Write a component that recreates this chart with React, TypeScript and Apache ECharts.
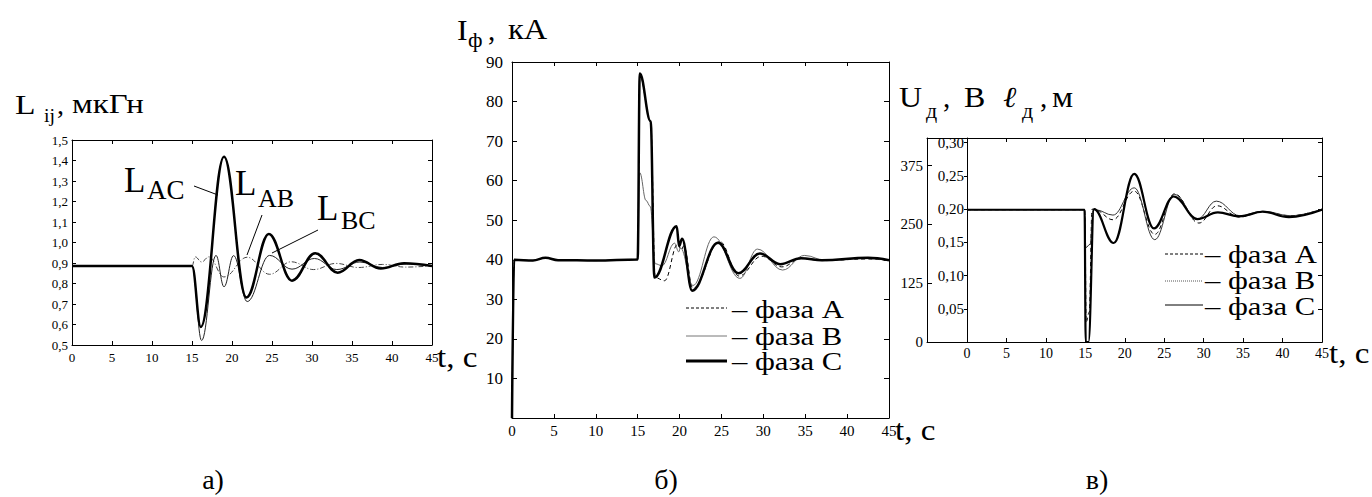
import React, { useEffect, useRef } from "react";
import * as echarts from "echarts";

const SERIF = "Liberation Serif";

// ---------- а) L_ij, мкГн ----------
const lacT = [0, 15, 16.1, 19.0, 21.8, 24.6, 27.5, 30.4, 33.2, 35.9, 38.6, 41.5, 45];
const lacV = [0.885, 0.885, 0.588, 1.418, 0.732, 1.042, 0.814, 0.948, 0.853, 0.915, 0.873, 0.899, 0.885];
const labT = [0, 15, 15.4, 16.2, 17.1, 19.0, 21.9, 24.7, 27.4, 30.2, 33.0, 35.8, 38.8, 41.7, 45];
const labV = [0.885, 0.885, 0.93, 0.905, 0.93, 0.832, 0.928, 0.845, 0.906, 0.868, 0.898, 0.878, 0.893, 0.88, 0.886];
const lbcT = [0, 15, 16.2, 18.0, 19.0, 20.2, 21.9, 24.7, 27.5, 30.3, 33.1, 36.0, 38.8, 41.8, 45];
const lbcV = [0.885, 0.885, 0.522, 0.937, 0.784, 0.936, 0.712, 0.937, 0.87, 0.922, 0.868, 0.905, 0.878, 0.895, 0.885];

// ---------- б) I_ф, кА ----------
const ifAT = [0, 0.25, 2.5, 4, 5.5, 10, 15, 15.25, 16.55, 17.1, 18.2, 19.8, 20.2, 20.5, 21.6, 24.8, 27.1, 29.8, 32.2, 34.5, 37, 42.5, 45];
const ifAV = [0, 40, 39.8, 40.5, 39.9, 39.8, 40.1, 86.5, 75, 35.5, 34.7, 44, 42.5, 43.5, 32.8, 44.6, 35.9, 40.9, 38.2, 40.3, 39.8, 40.2, 39.8];
const ifBT = [0, 0.25, 2.5, 4, 5.5, 10, 15, 15.25, 16.0, 16.5, 17.1, 17.9, 19.4, 19.9, 20.1, 21.6, 24.1, 27.2, 29.3, 32.3, 34.9, 37.5, 42, 45];
const ifBV = [0, 40, 39.8, 40.5, 39.9, 39.8, 40.1, 62, 55, 53.5, 39, 38.5, 44.2, 42, 43, 33.5, 45.8, 35.3, 42.7, 37.4, 41.1, 39.8, 40.3, 39.9];
const ifCT = [0, 0.25, 2.5, 4, 5.5, 10, 15, 15.25, 16.55, 17.0, 19.65, 19.95, 20.3, 21.5, 24.6, 27.0, 29.6, 32.0, 34.5, 37, 42.5, 45];
const ifCV = [0, 40, 39.8, 40.5, 39.9, 39.8, 40.1, 87.1, 75, 35.5, 48.5, 43.5, 45.3, 32.2, 44.3, 36.6, 41.6, 38.9, 40.4, 39.9, 40.5, 39.9];

// ---------- в) U_д, В / ℓ_д, м ----------
const ldAT = [0, 14.95, 15.1, 15.5, 15.85, 16.2, 18.5, 21.2, 23.8, 26.3, 29.4, 31.7, 34.5, 37.5, 41, 45];
const ldAV = [0.199, 0.199, 0.03, 0.045, 0.2, 0.199, 0.184, 0.227, 0.162, 0.223, 0.179, 0.205, 0.188, 0.196, 0.19, 0.2];
const ldBT = [0, 14.95, 15.05, 15.6, 16.0, 16.3, 18.5, 21.2, 23.8, 26.3, 29.2, 31.6, 34.6, 37.5, 41, 45];
const ldBV = [0.199, 0.199, 0.142, 0.147, 0.2, 0.199, 0.191, 0.232, 0.154, 0.222, 0.185, 0.212, 0.19, 0.197, 0.19, 0.2];
const ldCT = [0, 14.9, 15.05, 15.4, 16.1, 18.6, 21.2, 23.7, 26.2, 29.2, 31.8, 34.5, 37.5, 40.8, 45];
const ldCV = [0.199, 0.199, 0, 0, 0.2, 0.149, 0.253, 0.171, 0.219, 0.185, 0.195, 0.189, 0.196, 0.188, 0.199];

// tick labels
const uTicks = [0, 125, 250, 375];

const zip = (t: number[], v: number[]) => t.map((x, i) => [x, v[i]]);

const AXLINE = { show: true, onZero: false, lineStyle: { color: "#000", width: 1 } };
const tickIn = (len = 4) => ({ show: true, inside: true, length: len, lineStyle: { color: "#000", width: 1 } });

function xAx(grid: number, pos: "top" | "bottom", labels: boolean, fontSize: number, margin: number): any {
  return {
    type: "value", gridIndex: grid, position: pos, min: 0, max: 45, interval: 5,
    axisLine: AXLINE, axisTick: tickIn(4), splitLine: { show: false },
    axisLabel: { show: labels, color: "#000", fontFamily: SERIF, fontSize, margin },
  };
}

function line(name: string, xi: number, yi: number, data: number[][], style: any, z = 2): any {
  return {
    type: "line", name, xAxisIndex: xi, yAxisIndex: yi, data, symbol: "none", showSymbol: false,
    smooth: 0.4, smoothMonotone: "x", lineStyle: style, z, silent: true, clip: true,
  };
}

function txt(text: string, x: number, y: number, size: number, sx = 1, extra: any = {}): any {
  return {
    type: "text", x, y, scaleX: sx, silent: true,
    style: { text, fontSize: size, fontFamily: SERIF, fill: "#000", align: "left", verticalAlign: "middle", ...extra },
  };
}
function seg(x1: number, y1: number, x2: number, y2: number, w = 1, dash: any = null, color = "#000"): any {
  return { type: "line", silent: true, shape: { x1, y1, x2, y2 }, style: { stroke: color, lineWidth: w, lineDash: dash } };
}

const option: any = {
  animation: false,
  backgroundColor: "#fff",
  textStyle: { fontFamily: SERIF },
  grid: [
    { left: 72, top: 140, width: 360, height: 205 },
    { left: 512, top: 62, width: 377, height: 356 },
    { left: 927, top: 138, width: 395, height: 204 },
    { left: 967, top: 138, width: 355, height: 204 },
  ],
  xAxis: [
    xAx(0, "bottom", true, 13, 6),
    xAx(0, "top", false, 13, 6),
    xAx(1, "bottom", true, 15, 5),
    xAx(1, "top", false, 15, 5),
    { type: "value", gridIndex: 2, position: "bottom", min: 0, max: 1, axisLine: AXLINE, axisTick: { show: false }, axisLabel: { show: false }, splitLine: { show: false } },
    { type: "value", gridIndex: 2, position: "top", min: 0, max: 1, axisLine: AXLINE, axisTick: { show: false }, axisLabel: { show: false }, splitLine: { show: false } },
    xAx(3, "bottom", true, 14, 4),
    xAx(3, "top", false, 14, 4),
  ],
  yAxis: [
    {
      type: "value", gridIndex: 0, position: "left", min: 0.5, max: 1.5, interval: 0.1,
      axisLine: AXLINE, axisTick: tickIn(4), splitLine: { show: false },
      axisLabel: { color: "#000", fontFamily: SERIF, fontSize: 13, margin: 4, formatter: (v: number) => v.toFixed(1).replace(".", ",") },
    },
    { type: "value", gridIndex: 0, position: "right", min: 0.5, max: 1.5, interval: 0.1, axisLine: AXLINE, axisTick: tickIn(4), axisLabel: { show: false }, splitLine: { show: false } },
    {
      type: "value", gridIndex: 1, position: "left", min: 0, max: 90, interval: 10,
      axisLine: AXLINE, axisTick: tickIn(5), splitLine: { show: false },
      axisLabel: { color: "#000", fontFamily: SERIF, fontSize: 17, margin: 9, formatter: (v: number) => (v === 0 ? "" : String(v)) },
    },
    { type: "value", gridIndex: 1, position: "right", min: 0, max: 90, interval: 10, axisLine: AXLINE, axisTick: tickIn(5), axisLabel: { show: false }, splitLine: { show: false } },
    {
      type: "value", gridIndex: 2, position: "left", min: 0, max: 434, interval: 125,
      axisLine: AXLINE, axisTick: tickIn(5), splitLine: { show: false },
      axisLabel: { color: "#000", fontFamily: SERIF, fontSize: 15, margin: 4, formatter: (v: number) => (uTicks.includes(v) ? String(v) : "") },
    },
    {
      type: "value", gridIndex: 3, position: "left", min: 0, max: 0.307, interval: 0.05,
      axisLine: AXLINE, axisTick: { show: true, inside: false, length: 3, lineStyle: { color: "#000" } }, splitLine: { show: false },
      axisLabel: { color: "#000", fontFamily: SERIF, fontSize: 15, margin: 3, formatter: (v: number) => (v === 0 ? "" : v.toFixed(2).replace(".", ",")) },
    },
    { type: "value", gridIndex: 3, position: "right", min: 0, max: 0.307, interval: 0.05, axisLine: AXLINE, axisTick: tickIn(4), axisLabel: { show: false }, splitLine: { show: false } },
  ],
  series: [
    line("L_AB", 0, 0, zip(labT, labV), { color: "#444", width: 1, type: [5, 2, 1, 2] }),
    line("L_BC", 0, 0, zip(lbcT, lbcV), { color: "#222", width: 1 }),
    line("L_AC", 0, 0, zip(lacT, lacV), { color: "#000", width: 2.5 }, 3),

    line("фаза А", 2, 2, zip(ifAT, ifAV), { color: "#000", width: 1, type: [4, 3] }),
    line("фаза В", 2, 2, zip(ifBT, ifBV), { color: "#666", width: 1 }),
    line("фаза С", 2, 2, zip(ifCT, ifCV), { color: "#000", width: 2.5 }, 3),

    line("фаза А ", 6, 5, zip(ldAT, ldAV), { color: "#000", width: 1, type: [4, 3] }),
    line("фаза В ", 6, 5, zip(ldBT, ldBV), { color: "#333", width: 1 }),
    line("фаза С ", 6, 5, zip(ldCT, ldCV), { color: "#000", width: 2.2 }, 3),
  ],
  graphic: [
    // а) axis title
    txt("L", 15, 104, 28, 1.2),
    txt("ij", 44, 116, 18, 1.1),
    txt(",", 57, 104, 28),
    txt("мкГн", 72, 104, 28, 1.17),
    // а) curve labels
    txt("L", 124, 180, 35),
    txt("AC", 147, 190, 27),
    txt("L", 235, 183, 35),
    txt("AB", 258, 198, 26),
    txt("L", 317, 208, 35),
    txt("BC", 341, 220, 26),
    seg(194, 186, 218, 195),
    seg(262, 215, 247, 255),
    seg(318, 230, 272, 253),
    txt("t, c", 437, 357, 30, 1.1),
    // б) axis title
    txt("I", 457, 30, 29, 1.1),
    txt("ф", 468, 40, 20, 1.12),
    txt(",", 488, 30, 29),
    txt("кА", 508, 30, 29, 1.12),
    txt("t, c", 895, 430, 30, 1.1),
    // б) legend
    seg(686, 308, 727, 308, 1, [3, 2]),
    seg(686, 336, 727, 336, 1, null, "#777"),
    seg(686, 361, 727, 361, 3),
    txt("– фаза А", 732, 309, 26, 1.18),
    txt("– фаза В", 732, 336, 26, 1.18),
    txt("– фаза С", 732, 361, 26, 1.18),
    // в) axis titles
    txt("U", 899, 97, 29, 1.1),
    txt("д", 926, 111, 20, 1.1),
    txt(",", 943, 97, 29),
    txt("B", 964, 97, 29, 1.1),
    txt("ℓ", 1003, 97, 29, 1.1, { fontStyle: "italic" }),
    txt("д", 1022, 111, 20, 1.1),
    txt(",", 1040, 97, 29),
    txt("м", 1052, 97, 29, 1.15),
    txt("t, c", 1329, 353, 30, 1.1),
    // в) legend
    seg(1165, 254, 1203, 254, 1, [3, 2]),
    seg(1165, 281, 1203, 281, 1, [1, 1], "#555"),
    seg(1165, 305, 1203, 305, 1),
    txt("– фаза А", 1205, 254, 26, 1.18),
    txt("– фаза В", 1205, 280, 26, 1.18),
    txt("– фаза С", 1205, 306, 26, 1.18),
    // captions
    txt("а)", 213, 479, 28, 1, { align: "center" }),
    txt("б)", 666, 479, 28, 1, { align: "center" }),
    txt("в)", 1097, 479, 28, 1, { align: "center" }),
  ],
};

export default function App() {
  const ref = useRef<HTMLDivElement>(null);
  useEffect(() => {
    const chart = echarts.init(ref.current!, null, { renderer: "svg" });
    chart.setOption(option);
    return () => chart.dispose();
  }, []);
  return (
    <div
      ref={ref}
      style={{ position: "fixed", left: 0, top: 0, width: 1372, height: 497, background: "#fff" }}
    />
  );
}
